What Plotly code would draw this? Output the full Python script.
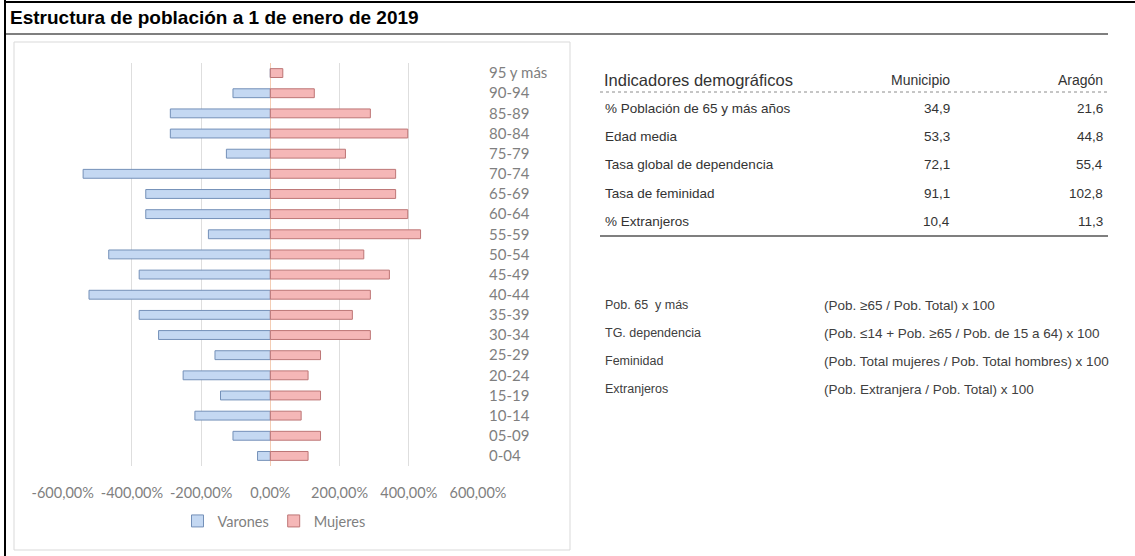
import plotly.graph_objects as go

# ── Datos ──────────────────────────────────────────────────────────────────
edades = [
    '0-04', '05-09', '10-14', '15-19', '20-24', '25-29', '30-34', '35-39',
    '40-44', '45-49', '50-54', '55-59', '60-64', '65-69', '70-74', '75-79',
    '80-84', '85-89', '90-94', '95 y más',
]
varones = [
    -0.37, -1.08, -2.18, -1.44, -2.52, -1.60, -3.23, -3.79, -5.24, -3.79,
    -4.67, -1.79, -3.60, -3.60, -5.41, -1.27, -2.89, -2.89, -1.08, 0.0,
]
mujeres = [
    1.09, 1.45, 0.89, 1.45, 1.09, 1.45, 2.89, 2.37, 2.89, 3.44,
    2.70, 4.34, 3.97, 3.62, 3.62, 2.17, 3.97, 2.89, 1.27, 0.36,
]
x_tickvals = [-6, -4, -2, 0, 2, 4, 6]
x_ticktext = ['-600,00%', '-400,00%', '-200,00%', '0,00%', '200,00%', '400,00%', '600,00%']

indicadores = [
    '% Población de 65 y más años', 'Edad media', 'Tasa global de dependencia',
    'Tasa de feminidad', '% Extranjeros',
]
municipio = ['34,9', '53,3', '72,1', '91,1', '10,4']
aragon = ['21,6', '44,8', '55,4', '102,8', '11,3']

formula_labels = ['Pob. 65  y más', 'TG. dependencia', 'Feminidad', 'Extranjeros']
formulas = [
    '(Pob. ≥65 / Pob. Total) x 100',
    '(Pob. ≤14 + Pob. ≥65 / Pob. de 15 a 64) x 100',
    '(Pob. Total mujeres / Pob. Total hombres) x 100',
    '(Pob. Extranjera / Pob. Total) x 100',
]

W, H = 1135, 556


def px(x):
    return x / W


def py(y):
    return 1 - y / H


CHART_FONT = 'Lato, Open Sans, sans-serif'
TABLE_FONT = 'Liberation Sans, Arial, sans-serif'
GREY = '#7f7f7f'

fig = go.Figure()
fig.add_trace(go.Bar(
    y=edades, x=varones, orientation='h', name='Varones',
    marker=dict(color='#c4d8f2', line=dict(color='#7490b8', width=1)),
))
fig.add_trace(go.Bar(
    y=edades, x=mujeres, orientation='h', name='Mujeres',
    marker=dict(color='#f5b7b7', line=dict(color='#bd7676', width=1)),
))

fig.update_layout(
    width=W, height=H,
    margin=dict(l=0, r=0, t=0, b=0, autoexpand=False),
    paper_bgcolor='white',
    plot_bgcolor='white',
    barmode='overlay',
    bargap=0.56,
    font=dict(family=CHART_FONT, color=GREY, size=14.5),
    showlegend=True,
    legend=dict(
        orientation='h', x=px(274), y=py(521), xanchor='center', yanchor='middle',
        font=dict(family=CHART_FONT, size=14.5, color=GREY),
        itemwidth=30, traceorder='normal',
    ),
    xaxis=dict(
        domain=[px(62.7), px(478)], range=[-6, 6],
        tickvals=x_tickvals, ticktext=x_ticktext,
        showgrid=True, gridcolor='#dedede', gridwidth=1,
        zeroline=True, zerolinecolor='#f4cdb4', zerolinewidth=1,
        showline=False, ticks='', ticklabelstandoff=16, automargin=False,
        tickfont=dict(size=14.5, color=GREY),
    ),
    yaxis=dict(
        type='category',
        domain=[py(466), py(63)], side='right',
        categoryorder='array', categoryarray=edades,
        showgrid=False, zeroline=False, showline=False, ticks='',
        ticklabelstandoff=10, automargin=False,
        tickfont=dict(size=15, color=GREY),
    ),
)

shapes = [
    # marco de página
    dict(type='line', x0=px(5), x1=px(5), y0=0, y1=1, line=dict(color='black', width=2)),
    dict(type='line', x0=px(5), x1=1, y0=py(2), y1=py(2), line=dict(color='black', width=2)),
    # línea bajo el título
    dict(type='line', x0=px(6), x1=px(1108), y0=py(34), y1=py(34), line=dict(color='#555555', width=1.5)),
    # panel del gráfico
    dict(type='rect', x0=px(14), x1=px(570), y0=py(550), y1=py(42),
         line=dict(color='#d9d9d9', width=1), layer='below'),
    # líneas de la tabla
    dict(type='line', x0=px(600), x1=px(1108), y0=py(92), y1=py(92),
         line=dict(color='#8c8c8c', width=1, dash='dot')),
    dict(type='line', x0=px(600), x1=px(1108), y0=py(236), y1=py(236),
         line=dict(color='#7f7f7f', width=2)),
]
for s in shapes:
    s.update(xref='paper', yref='paper')
fig.update_layout(shapes=shapes)

ann = []
ann.append(dict(x=px(8), y=py(17), text='<b>Estructura de población a 1 de enero de 2019</b>',
                xanchor='left', yanchor='middle',
                font=dict(family=TABLE_FONT, size=19, color='black')))
# cabecera de la tabla
ann.append(dict(x=px(602), y=py(80), text='Indicadores demográficos', xanchor='left',
                yanchor='middle', font=dict(family=TABLE_FONT, size=16.5, color='#333333')))
ann.append(dict(x=px(952), y=py(80), text='Municipio', xanchor='right',
                yanchor='middle', font=dict(family=TABLE_FONT, size=14, color='#333333')))
ann.append(dict(x=px(1105), y=py(80), text='Aragón', xanchor='right',
                yanchor='middle', font=dict(family=TABLE_FONT, size=14, color='#333333')))
row_y = [108, 136.5, 165, 193, 221.5]
for name, m, a, yy in zip(indicadores, municipio, aragon, row_y):
    ann.append(dict(x=px(603), y=py(yy), text=name, xanchor='left', yanchor='middle',
                    font=dict(family=TABLE_FONT, size=13.5, color='#333333')))
    ann.append(dict(x=px(952), y=py(yy), text=m, xanchor='right', yanchor='middle',
                    font=dict(family=TABLE_FONT, size=13.5, color='#333333')))
    ann.append(dict(x=px(1105), y=py(yy), text=a, xanchor='right', yanchor='middle',
                    font=dict(family=TABLE_FONT, size=13.5, color='#333333')))
form_y = [305, 333, 361, 389]
for lab, f, yy in zip(formula_labels, formulas, form_y):
    ann.append(dict(x=px(603), y=py(yy), text=lab, xanchor='left', yanchor='middle',
                    font=dict(family=TABLE_FONT, size=12.5, color='#404040')))
    ann.append(dict(x=px(822), y=py(yy), text=f, xanchor='left', yanchor='middle',
                    font=dict(family=TABLE_FONT, size=13.5, color='#404040')))
for a in ann:
    a.update(xref='paper', yref='paper', showarrow=False)
fig.update_layout(annotations=ann)

# sin margen del <body>, para que la figura ocupe exactamente la ventana
fig.write_html('out.html', config={'displayModeBar': False},
               post_script="document.body.style.margin='0px';")
